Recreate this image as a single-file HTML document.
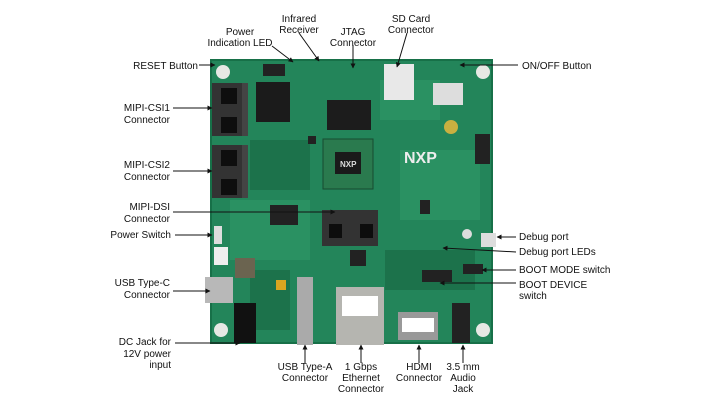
<!DOCTYPE html>
<html><head><style>html,body{margin:0;padding:0;background:#fff}svg{display:block}text{font-family:"Liberation Sans",sans-serif;font-size:10px;fill:#111}</style></head><body>
<svg width="720" height="405" viewBox="0 0 720 405" xmlns="http://www.w3.org/2000/svg">
<defs><marker id="a" markerWidth="5" markerHeight="5" refX="4.5" refY="2.5" orient="auto"><path d="M0,0 L5,2.5 L0,5z" fill="#111"/></marker></defs>
<rect x="211" y="60" width="281" height="283" fill="#23855a"/>
<rect x="211" y="60" width="281" height="283" fill="none" stroke="#177048" stroke-width="2"/>
<g fill="#2f9a68" opacity="0.6"><rect x="230" y="200" width="80" height="60"/><rect x="400" y="150" width="80" height="70"/><rect x="380" y="80" width="60" height="40"/></g>
<g fill="#1a6a44" opacity="0.7"><rect x="250" y="140" width="60" height="50"/><rect x="385" y="250" width="90" height="40"/><rect x="250" y="270" width="40" height="60"/></g>
<circle cx="223" cy="72" r="7" fill="#e6e8e4"/><circle cx="483" cy="72" r="7" fill="#e6e8e4"/><circle cx="221" cy="330" r="7" fill="#e6e8e4"/><circle cx="483" cy="330" r="7" fill="#e6e8e4"/>
<circle cx="451" cy="127" r="7" fill="#c9b040"/>
<rect x="212" y="83" width="30" height="53" fill="#333"/><rect x="221" y="88" width="16" height="16" fill="#0e0e0e"/><rect x="221" y="117" width="16" height="16" fill="#0e0e0e"/><rect x="242" y="83" width="6" height="53" fill="#444"/>
<rect x="212" y="145" width="30" height="53" fill="#333"/><rect x="221" y="150" width="16" height="16" fill="#0e0e0e"/><rect x="221" y="179" width="16" height="16" fill="#0e0e0e"/><rect x="242" y="145" width="6" height="53" fill="#444"/>
<rect x="256" y="82" width="34" height="40" fill="#1b1b1b"/><rect x="263" y="64" width="22" height="12" fill="#222"/>
<rect x="327" y="100" width="44" height="30" fill="#1c1c1c"/>
<rect x="323" y="139" width="50" height="50" fill="#2a7a4e" stroke="#174b30"/><rect x="335" y="152" width="26" height="22" fill="#1a1a1a"/><text x="340" y="167" style="font-size:8px;fill:#ddd;font-weight:bold">NXP</text>
<text x="404" y="163" style="font-size:16px;fill:#eee;font-weight:bold">NXP</text>
<rect x="384" y="64" width="30" height="36" fill="#e8e8e8"/><rect x="433" y="83" width="30" height="22" fill="#ddd"/>
<rect x="475" y="134" width="15" height="30" fill="#222"/>
<rect x="322" y="210" width="56" height="36" fill="#333"/><rect x="329" y="224" width="13" height="14" fill="#0d0d0d"/><rect x="360" y="224" width="13" height="14" fill="#0d0d0d"/>
<rect x="214" y="226" width="8" height="18" fill="#ddd"/><rect x="214" y="247" width="14" height="18" fill="#eee"/>
<rect x="205" y="277" width="28" height="26" fill="#b8b8b8"/><rect x="235" y="258" width="20" height="20" fill="#6b6450"/>
<rect x="276" y="280" width="10" height="10" fill="#d9a520"/><rect x="308" y="136" width="8" height="8" fill="#222"/><rect x="420" y="200" width="10" height="14" fill="#222"/>
<rect x="234" y="303" width="22" height="40" fill="#111"/>
<rect x="297" y="277" width="16" height="68" fill="#aaa"/>
<rect x="336" y="287" width="48" height="58" fill="#b5b5b0"/><rect x="342" y="296" width="36" height="20" fill="#fff"/>
<rect x="398" y="312" width="40" height="28" fill="#999"/><rect x="402" y="318" width="32" height="14" fill="#fff"/>
<rect x="452" y="303" width="18" height="40" fill="#222"/>
<rect x="481" y="233" width="15" height="14" fill="#ddd"/><circle cx="467" cy="234" r="5" fill="#ddd"/>
<rect x="463" y="264" width="20" height="10" fill="#222"/><rect x="422" y="270" width="30" height="12" fill="#222"/>
<rect x="350" y="250" width="16" height="16" fill="#222"/><rect x="270" y="205" width="28" height="20" fill="#222"/>
<g stroke="#111" stroke-width="1" fill="none" marker-end="url(#a)">
<line x1="199" y1="65" x2="215" y2="65"/><line x1="173" y1="108" x2="212" y2="108"/><line x1="173" y1="171" x2="212" y2="171"/>
<line x1="173" y1="212" x2="335" y2="212"/><line x1="175" y1="235" x2="212" y2="235"/><line x1="173" y1="291" x2="210" y2="291"/>
<line x1="175" y1="343" x2="240" y2="343"/>
<line x1="272" y1="46" x2="293" y2="62"/><line x1="299" y1="33" x2="319" y2="61"/><line x1="353" y1="45" x2="353" y2="68"/><line x1="407" y1="33" x2="397" y2="67"/>
<line x1="518" y1="65" x2="460" y2="65"/><line x1="516" y1="237" x2="497" y2="237"/><line x1="516" y1="252" x2="443" y2="248"/>
<line x1="516" y1="270" x2="482" y2="270"/><line x1="516" y1="283" x2="440" y2="283"/>
<line x1="305" y1="363" x2="305" y2="345"/><line x1="361" y1="363" x2="361" y2="345"/><line x1="419" y1="363" x2="419" y2="345"/><line x1="463" y1="363" x2="463" y2="345"/>
</g>
<g text-anchor="end">
<text x="198" y="69">RESET Button</text>
<text x="170" y="111">MIPI-CSI1</text><text x="170" y="123">Connector</text>
<text x="170" y="168">MIPI-CSI2</text><text x="170" y="180">Connector</text>
<text x="170" y="210">MIPI-DSI</text><text x="170" y="222">Connector</text>
<text x="171" y="238">Power Switch</text>
<text x="170" y="286">USB Type-C</text><text x="170" y="298">Connector</text>
<text x="171" y="345">DC Jack for</text><text x="171" y="357">12V power</text><text x="171" y="368">input</text>
</g>
<g text-anchor="middle">
<text x="240" y="35">Power</text><text x="240" y="46">Indication LED</text>
<text x="299" y="22">Infrared</text><text x="299" y="33">Receiver</text>
<text x="353" y="35">JTAG</text><text x="353" y="46">Connector</text>
<text x="411" y="22">SD Card</text><text x="411" y="33">Connector</text>
<text x="305" y="370">USB Type-A</text><text x="305" y="381">Connector</text>
<text x="361" y="370">1 Gbps</text><text x="361" y="381">Ethernet</text><text x="361" y="392">Connector</text>
<text x="419" y="370">HDMI</text><text x="419" y="381">Connector</text>
<text x="463" y="370">3.5 mm</text><text x="463" y="381">Audio</text><text x="463" y="392">Jack</text>
</g>
<text x="522" y="69">ON/OFF Button</text>
<text x="519" y="240">Debug port</text><text x="519" y="255">Debug port LEDs</text>
<text x="519" y="273">BOOT MODE switch</text>
<text x="519" y="288">BOOT DEVICE</text><text x="519" y="299">switch</text>
</svg>
</body></html>
